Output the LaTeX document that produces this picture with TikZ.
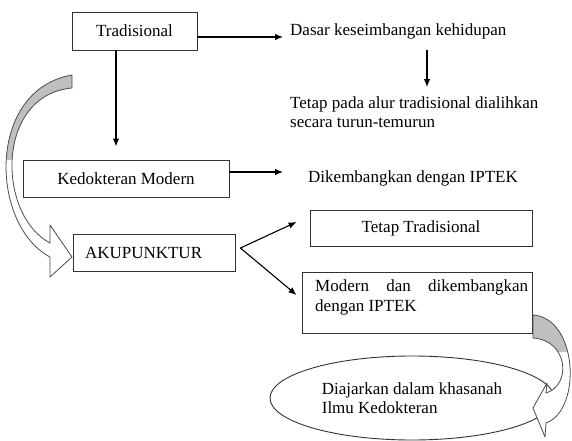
\documentclass[tikz,border=0pt]{standalone}
\usepackage{fontspec}
\setmainfont{Liberation Serif}
\usetikzlibrary{arrows.meta,shapes.geometric,calc}
\begin{document}
\begin{tikzpicture}[x=1pt,y=-1pt,
  every node/.style={font=\fontsize{17}{19.5}\selectfont},
  box/.style={draw=black!80, line width=0.9pt, rectangle, inner sep=0pt},
  txt/.style={inner sep=0pt, anchor=west, align=left},
  arr/.style={line width=1.1pt, -{Latex[length=8pt,width=6.5pt]}},
  blk/.style={draw=black!70, line width=0.8pt, line join=round},
  backfill/.style={fill=black!25}]
\useasboundingbox (0,0) rectangle (572,441);

% boxes and texts
\node[box, minimum width=125pt, minimum height=38pt] (trad) at (134.5,31) {Tradisional};
\node[txt] (dasar) at (290,31) {Dasar keseimbangan kehidupan};
\node[txt] (tetap1) at (290,112) {Tetap pada alur tradisional dialihkan\\secara turun-temurun};
\node[box, minimum width=206pt, minimum height=37pt] (kedok) at (126,178.5) {Kedokteran Modern};
\node[txt] (dik) at (308,178) {Dikembangkan dengan IPTEK};
\node[box, minimum height=37pt, text width=138pt, inner xsep=12pt, align=left] (aku) at (154,252.5) {AKUPUNKTUR};
\node[box, minimum width=222pt, minimum height=36pt] (tt) at (421,228) {Tetap Tradisional};
\node[box, minimum width=230pt, minimum height=61pt] (mod) at (417,302.5) {};
\node[inner sep=0pt, anchor=north west, text width=213pt, align=justify] (modtxt) at (315,280) {Modern dan dikembangkan dengan IPTEK};
\node[draw=black!80, line width=0.9pt, ellipse, minimum width=284pt, minimum height=84pt, inner sep=0pt, align=left] (ell) at (412,398) {Diajarkan dalam khasanah\\Ilmu Kedokteran};

% connectors
\draw[arr, shorten >=7pt] (trad.east |- 0,37) -- (dasar.west |- 0,37);
\draw[arr, shorten >=13pt] (trad.south -| 116,0) -- (kedok.north -| 116,0);
\draw[arr, shorten <=11pt, shorten >=9pt] (dasar.south -| 427,0) -- (tetap1.north -| 427,0);
\draw[arr, shorten >=25pt] (kedok.east |- 0,172) -- (dik.west |- 0,172);
\coordinate (fork) at ($(aku.east)+(5,-4.5)$);
\coordinate (tip1) at ($(tt.west)+(-13,-6)$);
\coordinate (tip2) at ($(mod.west)+(-5,-7.5)$);
\draw[arr] (fork) -- (tip1);
\draw[arr] (fork) -- (tip2);

% left curved block arrow
\def\leftband{(72,75) .. controls (-14,90) and (-10,225) .. (50,257) -- (50,243) .. controls (-3,215) and (-5,95) .. (72,88) -- cycle}
\def\leftarrow{(72,75) .. controls (-14,90) and (-10,225) .. (50,257) -- (50,277) -- (72,257) -- (50,225) -- (50,243) .. controls (-3,215) and (-5,95) .. (72,88) -- cycle}
\fill[white] \leftarrow;
\begin{scope}
  \clip \leftband;
  \fill[backfill] (0,0) rectangle (80,160);
\end{scope}
\draw[blk] \leftarrow;

% right curved block arrow
\def\rightband{(533,315) .. controls (578,318) and (582,410) .. (546,423) -- (546,393) .. controls (572,385) and (568,340) .. (533,338) -- cycle}
\def\rightarrow{(533,315) .. controls (578,318) and (582,410) .. (546,423) -- (545,437) -- (533,408) -- (547,383) -- (546,393) .. controls (572,385) and (568,340) .. (533,338) -- cycle}
\fill[white] \rightarrow;
\begin{scope}
  \clip \rightband;
  \fill[backfill] (520,300) rectangle (580,352);
\end{scope}
\draw[blk] \rightarrow;
\end{tikzpicture}
\end{document}
